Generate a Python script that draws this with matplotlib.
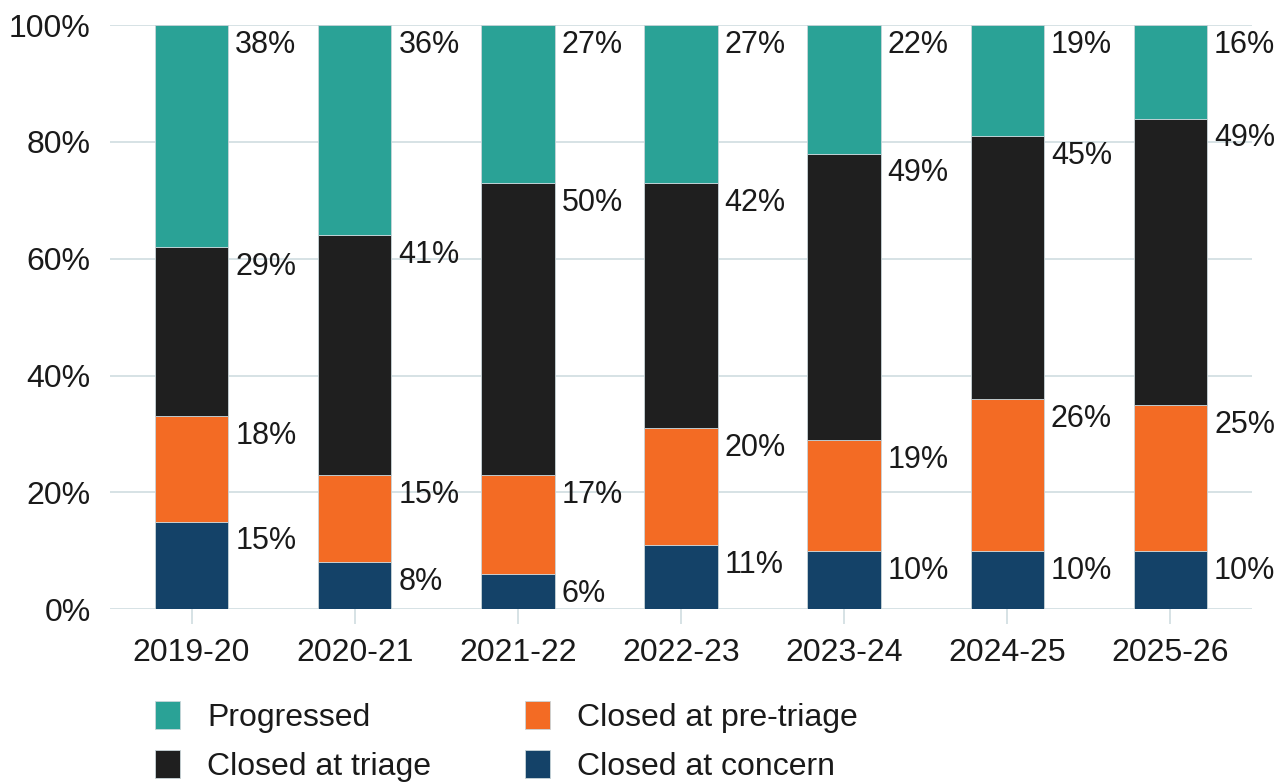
import matplotlib
matplotlib.use("Agg")
import matplotlib.pyplot as plt
from matplotlib.patches import Patch
import numpy as np

plt.rcParams['font.family'] = ['Liberation Sans', 'DejaVu Sans']

years = ["2019-20", "2020-21", "2021-22", "2022-23", "2023-24", "2024-25", "2025-26"]
closed_concern = [15, 8, 6, 11, 10, 10, 10]
closed_pretriage = [18, 15, 17, 20, 19, 26, 25]
closed_triage = [29, 41, 50, 42, 49, 45, 49]
progressed = [38, 36, 27, 27, 22, 19, 16]

series = [
    ("Closed at concern", closed_concern, "#144268"),
    ("Closed at pre-triage", closed_pretriage, "#f36b24"),
    ("Closed at triage", closed_triage, "#1f1f1f"),
    ("Progressed", progressed, "#2aa296"),
]

fig = plt.figure(figsize=(12.88, 7.83), dpi=100)
ax = fig.add_axes([0.0854, 0.222, 0.8866, 0.746])

x = np.arange(len(years))
width = 0.45
bottom = np.zeros(len(years))
grid_c = "#d3dfe3"
text_c = "#1a1a1a"

for name, vals, col in series:
    vals = np.array(vals, dtype=float)
    ax.bar(x, vals, width, bottom=bottom, color=col, edgecolor="#c9d5d9",
           linewidth=0.6, zorder=3)
    tops = bottom + vals
    for xi, top, v in zip(x, tops, vals):
        ax.annotate(f"{int(v)}%", xy=(xi + width / 2, top), xytext=(5, -3.5),
                    textcoords="offset points", ha="left", va="top",
                    fontsize=22, color=text_c, zorder=4)
    bottom = tops

ax.set_xlim(-0.5, 6.5)
ax.set_ylim(0, 100)
ax.set_yticks([0, 20, 40, 60, 80, 100])
ax.set_yticklabels([f"{v}%" for v in [0, 20, 40, 60, 80, 100]])
ax.set_xticks(x)
ax.set_xticklabels(years)

for s in ax.spines.values():
    s.set_visible(False)
ax.yaxis.grid(True, color=grid_c, linewidth=1.3, zorder=0)
ax.set_axisbelow(True)
ax.tick_params(axis="y", length=0, pad=14, labelsize=23, labelcolor=text_c)
ax.tick_params(axis="x", length=11, width=1.3, color=grid_c, pad=10,
               labelsize=23, labelcolor=text_c)

handles = [
    Patch(facecolor="#2aa296", edgecolor="#c9d5d9", linewidth=0.6, label="Progressed"),
    Patch(facecolor="#1f1f1f", edgecolor="#c9d5d9", linewidth=0.6, label="Closed at triage"),
    Patch(facecolor="#f36b24", edgecolor="#c9d5d9", linewidth=0.6, label="Closed at pre-triage"),
    Patch(facecolor="#144268", edgecolor="#c9d5d9", linewidth=0.6, label="Closed at concern"),
]
fig.legend(handles=handles, ncol=2, loc="upper left", bbox_to_anchor=(0.108, 0.125),
           frameon=False, fontsize=23, handlelength=0.78, handleheight=0.95,
           handletextpad=0.85, columnspacing=2.95, labelspacing=0.55, borderpad=0,
           labelcolor=text_c)

fig.savefig("out.png", dpi=100)
